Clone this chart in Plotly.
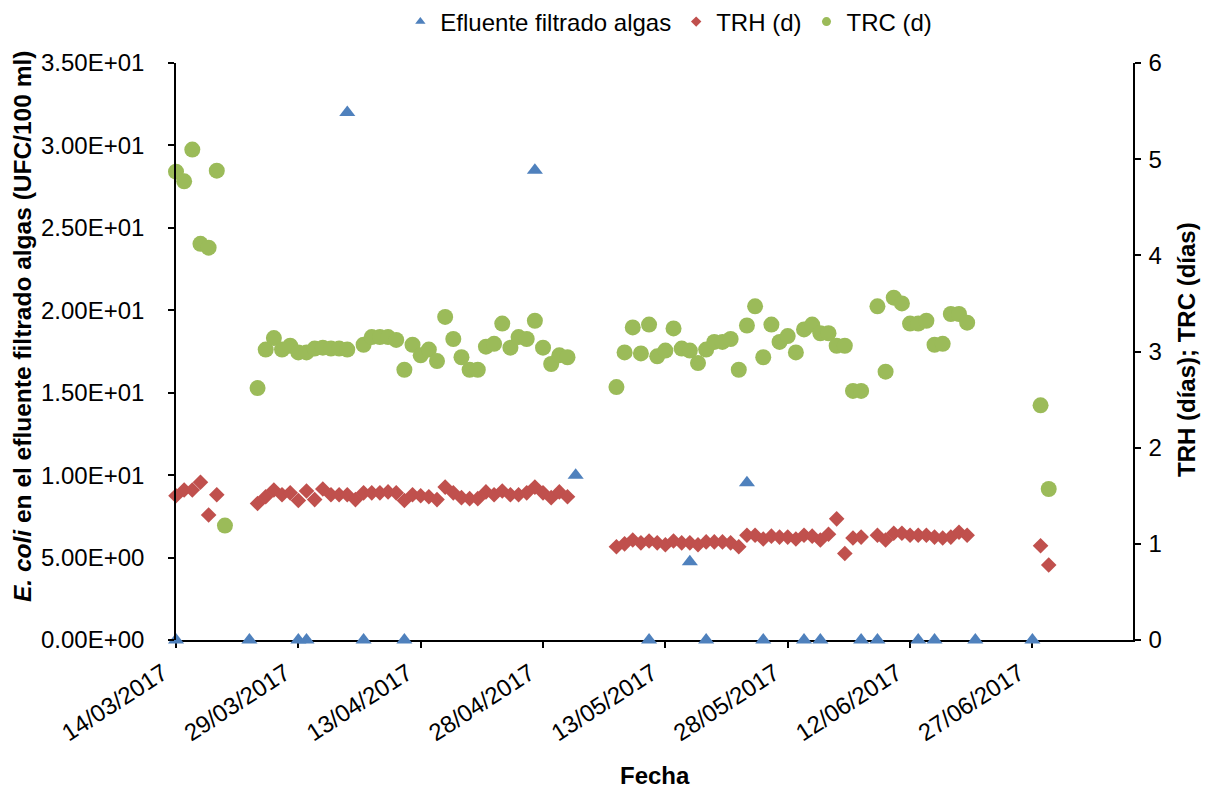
import plotly.graph_objects as go

# ---------------- data ----------------
ecoli_fechas = ["2017-03-14", "2017-03-23", "2017-03-29", "2017-03-30", "2017-04-04", "2017-04-06",
                "2017-04-11", "2017-04-27", "2017-05-02", "2017-05-11", "2017-05-16", "2017-05-18",
                "2017-05-23", "2017-05-25", "2017-05-30", "2017-06-01", "2017-06-06", "2017-06-08",
                "2017-06-13", "2017-06-15", "2017-06-20", "2017-06-27"]
ecoli_valores = [0, 0, 0, 0, 32.0, 0,
                 0, 28.5, 10.0, 0, 4.75, 0,
                 9.54, 0, 0, 0, 0, 0,
                 0, 0, 0, 0]

trh_fechas = ["2017-03-14", "2017-03-15", "2017-03-16", "2017-03-17", "2017-03-18", "2017-03-19",
              "2017-03-24", "2017-03-25", "2017-03-26", "2017-03-27", "2017-03-28", "2017-03-29",
              "2017-03-30", "2017-03-31", "2017-04-01", "2017-04-02", "2017-04-03", "2017-04-04",
              "2017-04-05", "2017-04-06", "2017-04-07", "2017-04-08", "2017-04-09", "2017-04-10",
              "2017-04-11", "2017-04-12", "2017-04-13", "2017-04-14", "2017-04-15", "2017-04-16",
              "2017-04-17", "2017-04-18", "2017-04-19", "2017-04-20", "2017-04-21", "2017-04-22",
              "2017-04-23", "2017-04-24", "2017-04-25", "2017-04-26", "2017-04-27", "2017-04-28",
              "2017-04-29", "2017-04-30", "2017-05-01",
              "2017-05-07", "2017-05-08", "2017-05-09", "2017-05-10", "2017-05-11", "2017-05-12",
              "2017-05-13", "2017-05-14", "2017-05-15", "2017-05-16", "2017-05-17", "2017-05-18",
              "2017-05-19", "2017-05-20", "2017-05-21", "2017-05-22", "2017-05-23", "2017-05-24",
              "2017-05-25", "2017-05-26", "2017-05-27", "2017-05-28", "2017-05-29", "2017-05-30",
              "2017-05-31", "2017-06-01", "2017-06-02", "2017-06-03", "2017-06-04", "2017-06-05",
              "2017-06-06", "2017-06-08", "2017-06-09", "2017-06-10", "2017-06-11", "2017-06-12",
              "2017-06-13", "2017-06-14", "2017-06-15", "2017-06-16", "2017-06-17", "2017-06-18",
              "2017-06-19", "2017-06-28", "2017-06-29"]
trh_valores = [1.50, 1.56, 1.56, 1.64, 1.30, 1.51,
               1.42, 1.49, 1.56, 1.51, 1.53, 1.45,
               1.55, 1.46, 1.57, 1.51, 1.51, 1.51,
               1.46, 1.53, 1.53, 1.53, 1.54, 1.53,
               1.45, 1.51, 1.50, 1.49, 1.46, 1.59,
               1.53, 1.48, 1.47, 1.47, 1.54, 1.51,
               1.55, 1.51, 1.51, 1.53, 1.59, 1.53,
               1.48, 1.54, 1.49,
               0.97, 1.00, 1.04, 1.01, 1.03, 1.01,
               0.99, 1.03, 1.01, 1.01, 0.99, 1.02,
               1.02, 1.02, 1.01, 0.97, 1.09, 1.09,
               1.05, 1.08, 1.07, 1.07, 1.05, 1.09,
               1.08, 1.04, 1.10, 1.26, 0.90, 1.06,
               1.07, 1.09, 1.04, 1.11, 1.11, 1.09,
               1.09, 1.09, 1.07, 1.06, 1.07, 1.12,
               1.09, 0.98, 0.78]

trc_fechas = ["2017-03-14", "2017-03-15", "2017-03-16", "2017-03-17", "2017-03-18", "2017-03-19",
              "2017-03-20", "2017-03-24", "2017-03-25", "2017-03-26", "2017-03-27", "2017-03-28",
              "2017-03-29", "2017-03-30", "2017-03-31", "2017-04-01", "2017-04-02", "2017-04-03",
              "2017-04-04", "2017-04-06", "2017-04-07", "2017-04-08", "2017-04-09", "2017-04-10",
              "2017-04-11", "2017-04-12", "2017-04-13", "2017-04-14", "2017-04-15", "2017-04-16",
              "2017-04-17", "2017-04-18", "2017-04-19", "2017-04-20", "2017-04-21", "2017-04-22",
              "2017-04-23", "2017-04-24", "2017-04-25", "2017-04-26", "2017-04-27", "2017-04-28",
              "2017-04-29", "2017-04-30", "2017-05-01",
              "2017-05-07", "2017-05-08", "2017-05-09", "2017-05-10", "2017-05-11", "2017-05-12",
              "2017-05-13", "2017-05-14", "2017-05-15", "2017-05-16", "2017-05-17", "2017-05-18",
              "2017-05-19", "2017-05-20", "2017-05-21", "2017-05-22", "2017-05-23", "2017-05-24",
              "2017-05-25", "2017-05-26", "2017-05-27", "2017-05-28", "2017-05-29", "2017-05-30",
              "2017-05-31", "2017-06-01", "2017-06-02", "2017-06-03", "2017-06-04", "2017-06-05",
              "2017-06-06", "2017-06-08", "2017-06-09", "2017-06-10", "2017-06-11", "2017-06-12",
              "2017-06-13", "2017-06-14", "2017-06-15", "2017-06-16", "2017-06-17", "2017-06-18",
              "2017-06-19", "2017-06-28", "2017-06-29"]
trc_valores = [4.87, 4.77, 5.10, 4.12, 4.08, 4.88,
               1.19, 2.62, 3.02, 3.14, 3.02, 3.06,
               2.99, 2.99, 3.03, 3.04, 3.03, 3.03,
               3.02, 3.07, 3.15, 3.15, 3.15, 3.12,
               2.81, 3.07, 2.96, 3.02, 2.90, 3.36,
               3.13, 2.94, 2.81, 2.81, 3.05, 3.08,
               3.29, 3.04, 3.15, 3.13, 3.32, 3.04,
               2.87, 2.96, 2.94,
               2.63, 2.99, 3.25, 2.98, 3.28, 2.95,
               3.01, 3.24, 3.03, 3.01, 2.88, 3.02,
               3.10, 3.10, 3.13, 2.81, 3.27, 3.47,
               2.94, 3.28, 3.10, 3.16, 2.99, 3.23,
               3.28, 3.19, 3.19, 3.06, 3.06, 2.59,
               2.59, 3.47, 2.79, 3.56, 3.50, 3.29,
               3.29, 3.32, 3.07, 3.08, 3.39, 3.39,
               3.30, 2.44, 1.57]

y1_tickvals = [0, 5, 10, 15, 20, 25, 30, 35]
y1_ticktext = ["0.00E+00", "5.00E+00", "1.00E+01", "1.50E+01", "2.00E+01",
               "2.50E+01", "3.00E+01", "3.50E+01"]
y2_tickvals = [0, 1, 2, 3, 4, 5, 6]
x_tickvals = ["2017-03-14", "2017-03-29", "2017-04-13", "2017-04-28",
              "2017-05-13", "2017-05-28", "2017-06-12", "2017-06-27"]
x_ticktext = ["14/03/2017", "29/03/2017", "13/04/2017", "28/04/2017",
              "13/05/2017", "28/05/2017", "12/06/2017", "27/06/2017"]

# ---------------- style ----------------
FONT = "Arial, Liberation Sans, sans-serif"
AZUL = "#4F81BD"
ROJO = "#C0504D"
VERDE = "#9BBB59"
TICK_SIZE = 24
TITLE_SIZE = 24

fig = go.Figure()

fig.add_trace(go.Scatter(x=ecoli_fechas, y=ecoli_valores, mode="markers",
                         name="Efluente filtrado algas", yaxis="y", showlegend=False,
                         marker=dict(symbol="triangle-up", size=14, color=AZUL, line=dict(width=0)),
                         cliponaxis=False))
fig.add_trace(go.Scatter(x=trh_fechas, y=trh_valores, mode="markers",
                         name="TRH (d)", yaxis="y2", showlegend=False,
                         marker=dict(symbol="diamond", size=12, color=ROJO, line=dict(width=0)),
                         cliponaxis=False))
fig.add_trace(go.Scatter(x=trc_fechas, y=trc_valores, mode="markers",
                         name="TRC (d)", yaxis="y2", showlegend=False,
                         marker=dict(symbol="circle", size=16, color=VERDE, line=dict(width=0)),
                         cliponaxis=False))

# legend entries (smaller symbols, like the original)
for nombre, simb, col, tam in [("Efluente filtrado algas", "triangle-up", AZUL, 9),
                               ("TRH (d)", "diamond", ROJO, 8),
                               ("TRC (d)", "circle", VERDE, 9)]:
    fig.add_trace(go.Scatter(x=[None], y=[None], mode="markers", name=nombre,
                             marker=dict(symbol=simb, size=tam, color=col, line=dict(width=0))))

axis_common = dict(showline=True, linecolor="black", linewidth=1.5, ticks="outside",
                   ticklen=6, tickwidth=1.5, tickcolor="black", showgrid=False,
                   zeroline=False, tickfont=dict(family=FONT, size=TICK_SIZE, color="black"))

fig.update_layout(
    width=1211, height=791,
    margin=dict(l=176, r=78, t=63, b=151, pad=0, autoexpand=False),
    paper_bgcolor="white", plot_bgcolor="white",
    font=dict(family=FONT, size=TICK_SIZE, color="black"),
    xaxis=dict(type="date", range=["2017-03-14", "2017-07-09 08:00"],
               tickvals=x_tickvals, ticktext=x_ticktext, tickangle=-33,
               ticklabelshift=-13, ticklabelstandoff=2,
               layer="below traces", **axis_common),
    yaxis=dict(range=[0, 35], tickvals=y1_tickvals, ticktext=y1_ticktext,
               ticklabelstandoff=19, **axis_common),
    yaxis2=dict(range=[0, 6], tickvals=y2_tickvals, overlaying="y", side="right",
                ticklabelstandoff=3, **axis_common),
    legend=dict(orientation="h", x=0.515, xref="paper", y=1 - 22 / 791, yref="container",
                xanchor="center", yanchor="middle",
                font=dict(family=FONT, size=TICK_SIZE, color="black"), bgcolor="rgba(0,0,0,0)",
                itemwidth=30, tracegroupgap=0),
    annotations=[
        dict(text="<b><i>E. coli</i> en el efluente filtrado algas (UFC/100 ml)</b>",
             xref="paper", yref="paper", x=(22 - 176) / 957, y=(640 - 327) / 577, textangle=-90,
             showarrow=False, xanchor="center", yanchor="middle",
             font=dict(family=FONT, size=24.5, color="black")),
        dict(text="<b>TRH (días); TRC (días)</b>",
             xref="paper", yref="paper", x=(1186 - 176) / 957, y=(640 - 350) / 577, textangle=-90,
             showarrow=False, xanchor="center", yanchor="middle",
             font=dict(family=FONT, size=TITLE_SIZE, color="black")),
        dict(text="<b>Fecha</b>",
             xref="paper", yref="paper", x=0.5, y=-(775 - 640) / 577,
             showarrow=False, xanchor="center", yanchor="middle",
             font=dict(family=FONT, size=TITLE_SIZE, color="black")),
    ],
)

fig.write_html("out.html")
